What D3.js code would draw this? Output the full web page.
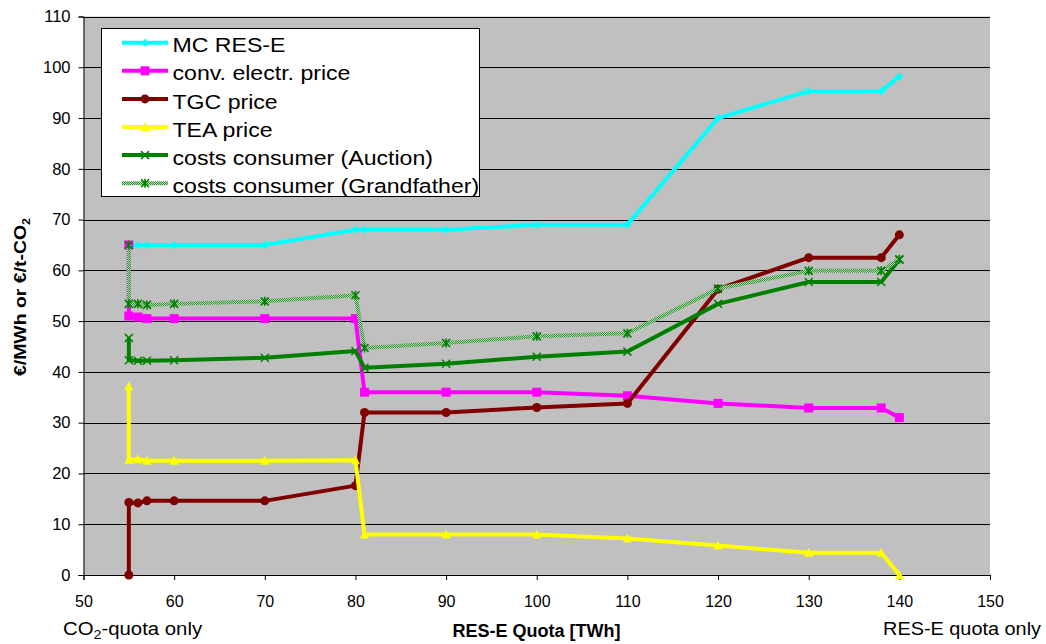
<!DOCTYPE html>
<html><head><meta charset="utf-8">
<script src="https://cdn.jsdelivr.net/npm/d3@7"></script>
<style>body{margin:0;background:#fff;font-family:"Liberation Sans",Arial,sans-serif;}</style>
</head><body><svg id="c" width="1046" height="644"></svg>
<script>
const quota = [55, 55, 56, 57, 60, 70, 80, 81, 90, 100, 110, 120, 130, 138, 140];
const mcRes =      [65, 65, 65, 65, 65, 65, 68, 68, 68, 69, 69, 90, 95.3, 95.3, 98.2];
const convPrice =  [65, 51, 50.8, 50.5, 50.5, 50.5, 50.5, 36, 36, 36, 35.3, 33.8, 32.9, 32.9, 31];
const tgcPrice =   [0, 14.3, 14.2, 14.6, 14.6, 14.6, 17.6, 32, 32, 33, 33.8, 56.3, 62.5, 62.5, 67];
const teaPrice =   [37.2, 22.7, 22.8, 22.5, 22.5, 22.5, 22.6, 8, 8, 8, 7.2, 5.8, 4.4, 4.4, 0];
const costAuct =   [46.7, 42.3, 42.2, 42.2, 42.3, 42.8, 44.1, 40.8, 41.6, 43, 44, 53.4, 57.7, 57.7, 62.1];
const costGrand =  [65, 53.4, 53.4, 53.2, 53.4, 53.9, 55.1, 44.7, 45.7, 47, 47.6, 56.4, 59.9, 59.9, 62.2];
const seriesNames = ["MC RES-E", "conv. electr. price", "TGC price", "TEA price", "costs consumer (Auction)", "costs consumer (Grandfather)"];
const xTicks = [50, 60, 70, 80, 90, 100, 110, 120, 130, 140, 150];
const yTicks = [0, 10, 20, 30, 40, 50, 60, 70, 80, 90, 100, 110];

const series = [
  {name: seriesNames[0], values: mcRes, color: "#00FFFF", marker: "diamond", width: 4},
  {name: seriesNames[1], values: convPrice, color: "#FF00FF", marker: "square", width: 4},
  {name: seriesNames[2], values: tgcPrice, color: "#800000", marker: "circle", width: 4},
  {name: seriesNames[3], values: teaPrice, color: "#FFFF00", marker: "triangle", width: 4},
  {name: seriesNames[4], values: costAuct, color: "#008000", marker: "x", width: 4},
  {name: seriesNames[5], values: costGrand, color: "url(#checker)", mcolor: "#008000", marker: "star", width: 4}
];

const FONT = "Liberation Sans, Arial, sans-serif";
const svg = d3.select("#c");
const defs = svg.append("defs");
const pat = defs.append("pattern").attr("id", "checker").attr("patternUnits", "userSpaceOnUse")
  .attr("width", 2).attr("height", 2);
pat.append("rect").attr("width", 2).attr("height", 2).attr("fill", "#b8dcb8");
pat.append("rect").attr("width", 1).attr("height", 1).attr("fill", "#2a8f2a");
pat.append("rect").attr("x", 1).attr("y", 1).attr("width", 1).attr("height", 1).attr("fill", "#2a8f2a");

const L = 83.5, R = 990, T = 16.5, B = 575;
const x = d3.scaleLinear().domain([50, 150]).range([L, R]);
const y = d3.scaleLinear().domain([0, 110]).range([B, T]);

svg.append("rect").attr("x", L).attr("y", T).attr("width", R - L).attr("height", B - T).attr("fill", "#C0C0C0");

// gridlines
svg.append("g").selectAll("line").data(yTicks.filter(d => d > 0)).join("line")
  .attr("x1", L).attr("x2", R).attr("y1", d => Math.round(y(d)) + 0.5).attr("y2", d => Math.round(y(d)) + 0.5)
  .attr("stroke", "#000").attr("stroke-width", 1);

// axes
const yAxis = d3.axisLeft(y).tickValues(yTicks).tickSize(5).tickPadding(8);
const gy = svg.append("g").attr("transform", `translate(${L},0)`).call(yAxis);
gy.select(".domain").attr("stroke", "#000");
gy.selectAll("text").attr("font-size", 16.5).attr("font-family", FONT).attr("fill", "#000");

const xAxis = d3.axisBottom(x).tickValues(xTicks).tickSize(5).tickPadding(15);
const gx = svg.append("g").attr("transform", `translate(0,${B})`).call(xAxis);
gx.select(".domain").attr("stroke", "#000");
gx.selectAll("text").attr("font-size", 16).attr("font-family", FONT).attr("fill", "#000").attr("dy", 0).attr("y", 32);

// marker shapes
function drawMarker(g, type, color, cx, cy) {
  if (type === "diamond") {
    g.append("path").attr("d", `M${cx},${cy-4}L${cx+4},${cy}L${cx},${cy+4}L${cx-4},${cy}Z`).attr("fill", color);
  } else if (type === "square") {
    g.append("rect").attr("x", cx - 4.5).attr("y", cy - 4.5).attr("width", 9).attr("height", 9).attr("fill", color);
  } else if (type === "circle") {
    g.append("circle").attr("cx", cx).attr("cy", cy).attr("r", 4.5).attr("fill", color);
  } else if (type === "triangle") {
    g.append("path").attr("d", `M${cx},${cy-5}L${cx+4.5},${cy+4}L${cx-4.5},${cy+4}Z`).attr("fill", color);
  } else if (type === "x") {
    g.append("path").attr("d", `M${cx-4},${cy-4}L${cx+4},${cy+4}M${cx-4},${cy+4}L${cx+4},${cy-4}`)
      .attr("stroke", color).attr("stroke-width", 1.5).attr("fill", "none");
  } else if (type === "star") {
    g.append("path").attr("d", `M${cx-4},${cy-4}L${cx+4},${cy+4}M${cx-4},${cy+4}L${cx+4},${cy-4}M${cx},${cy-4.5}L${cx},${cy+4.5}`)
      .attr("stroke", color).attr("stroke-width", 1.6).attr("fill", "none");
  }
}

const line = d3.line().x(d => x(d[0])).y(d => y(d[1]));
series.forEach(s => {
  const pts = quota.map((q, i) => [q, s.values[i]]);
  const g = svg.append("g");
  g.append("path").attr("d", line(pts)).attr("fill", "none").attr("stroke", s.color)
    .attr("stroke-width", s.width).attr("stroke-linejoin", "round");
  pts.forEach(p => drawMarker(g, s.marker, s.mcolor || s.color, x(p[0]), y(p[1])));
});

// legend
const lg = svg.append("g");
lg.append("rect").attr("x", 101.5).attr("y", 28.5).attr("width", 378).attr("height", 168)
  .attr("fill", "#fff").attr("stroke", "#000").attr("stroke-width", 1);
series.forEach((s, i) => {
  const ly = 42.7 + i * 28.1;
  lg.append("line").attr("x1", 122).attr("x2", 168).attr("y1", ly).attr("y2", ly)
    .attr("stroke", s.color).attr("stroke-width", 4);
  drawMarker(lg, s.marker, s.mcolor || s.color, 145, ly);
  lg.append("text").attr("transform", `translate(172.5,${ly + 9.6}) scale(1.1,1)`).attr("font-size", 21)
    .attr("font-family", FONT).text(s.name);
});

// axis titles
const yt = svg.append("text").attr("transform", "translate(26,297) rotate(-90)").attr("text-anchor", "middle")
  .attr("font-size", 17).attr("font-weight", "bold").attr("font-family", FONT)
  .attr("textLength", 158).attr("lengthAdjust", "spacingAndGlyphs");
yt.append("tspan").text("€/MWh or €/t-CO");
yt.append("tspan").attr("font-size", 11).attr("dy", 4).text("2");

svg.append("text").attr("x", 536.5).attr("y", 637).attr("text-anchor", "middle").attr("font-size", 18)
  .attr("font-weight", "bold").attr("font-family", FONT).text("RES-E Quota [TWh]");

const co = svg.append("text").attr("transform", "translate(63,635) scale(1.1,1)").attr("font-size", 18.5).attr("font-family", FONT);
co.append("tspan").text("CO");
co.append("tspan").attr("font-size", 13).attr("dy", 4).text("2");
co.append("tspan").attr("dy", -4).text("-quota only");

svg.append("text").attr("transform", "translate(1041,635) scale(1.075,1)").attr("text-anchor", "end").attr("font-size", 18.5)
  .attr("font-family", FONT).text("RES-E quota only");
</script></body></html>
